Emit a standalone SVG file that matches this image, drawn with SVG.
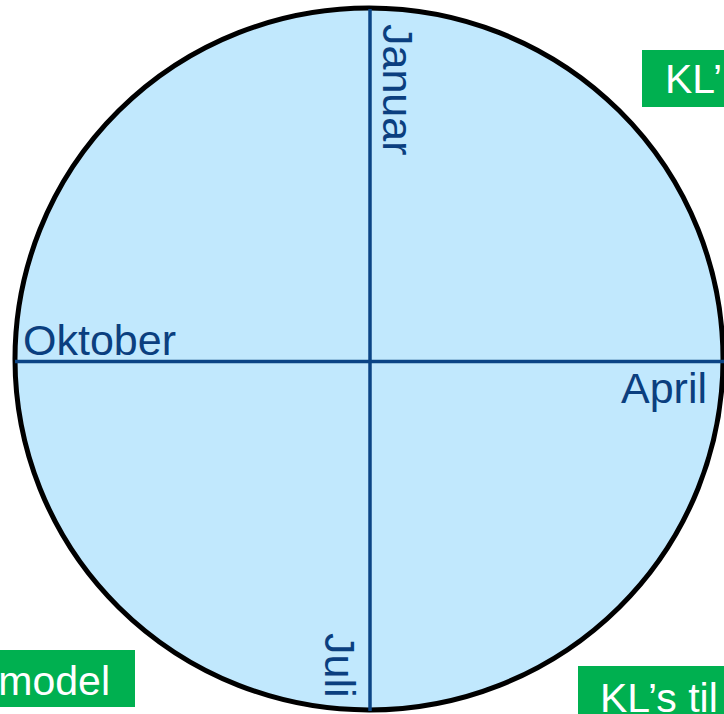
<svg xmlns="http://www.w3.org/2000/svg" width="724" height="714" viewBox="0 0 724 714">
<style>
.lbl{font-family:"Liberation Sans",Arial,sans-serif;font-size:43px;fill:#0b3f7f}
.tag{font-family:"Liberation Sans",Arial,sans-serif;font-size:41px;fill:#ffffff}
.box{fill:#00b050}
.axis{stroke:#0b4485;stroke-width:3.5;fill:none}
</style>
<rect width="724" height="714" fill="#ffffff"/>
<g id="wheel">
<ellipse cx="369" cy="359" rx="354" ry="351" fill="#c1e8fd" stroke="#000000" stroke-width="5"/>
</g>
<g id="axes">
<line class="axis" x1="370" y1="9" x2="370" y2="711"/>
<line class="axis" x1="15" y1="361.5" x2="724" y2="361.5"/>
</g>
<g id="month-januar"><text class="lbl" transform="translate(383,24) rotate(90)">Januar</text></g>
<g id="month-oktober"><text class="lbl" x="23" y="355">Oktober</text></g>
<g id="month-april"><text class="lbl" x="707" y="403" text-anchor="end">April</text></g>
<g id="month-juli"><text class="lbl" transform="translate(325,633) rotate(90)">Juli</text></g>
<g id="tag-top"><rect class="box" x="642" y="50" width="90" height="57"/><text class="tag" x="665" y="93">KL’</text></g>
<g id="tag-left"><rect class="box" x="-10" y="650" width="145" height="57"/><text class="tag" x="110" y="695" text-anchor="end">model</text></g>
<g id="tag-bottom"><rect class="box" x="578" y="666" width="150" height="60"/><text class="tag" x="600" y="712">KL’s til</text></g>
</svg>
